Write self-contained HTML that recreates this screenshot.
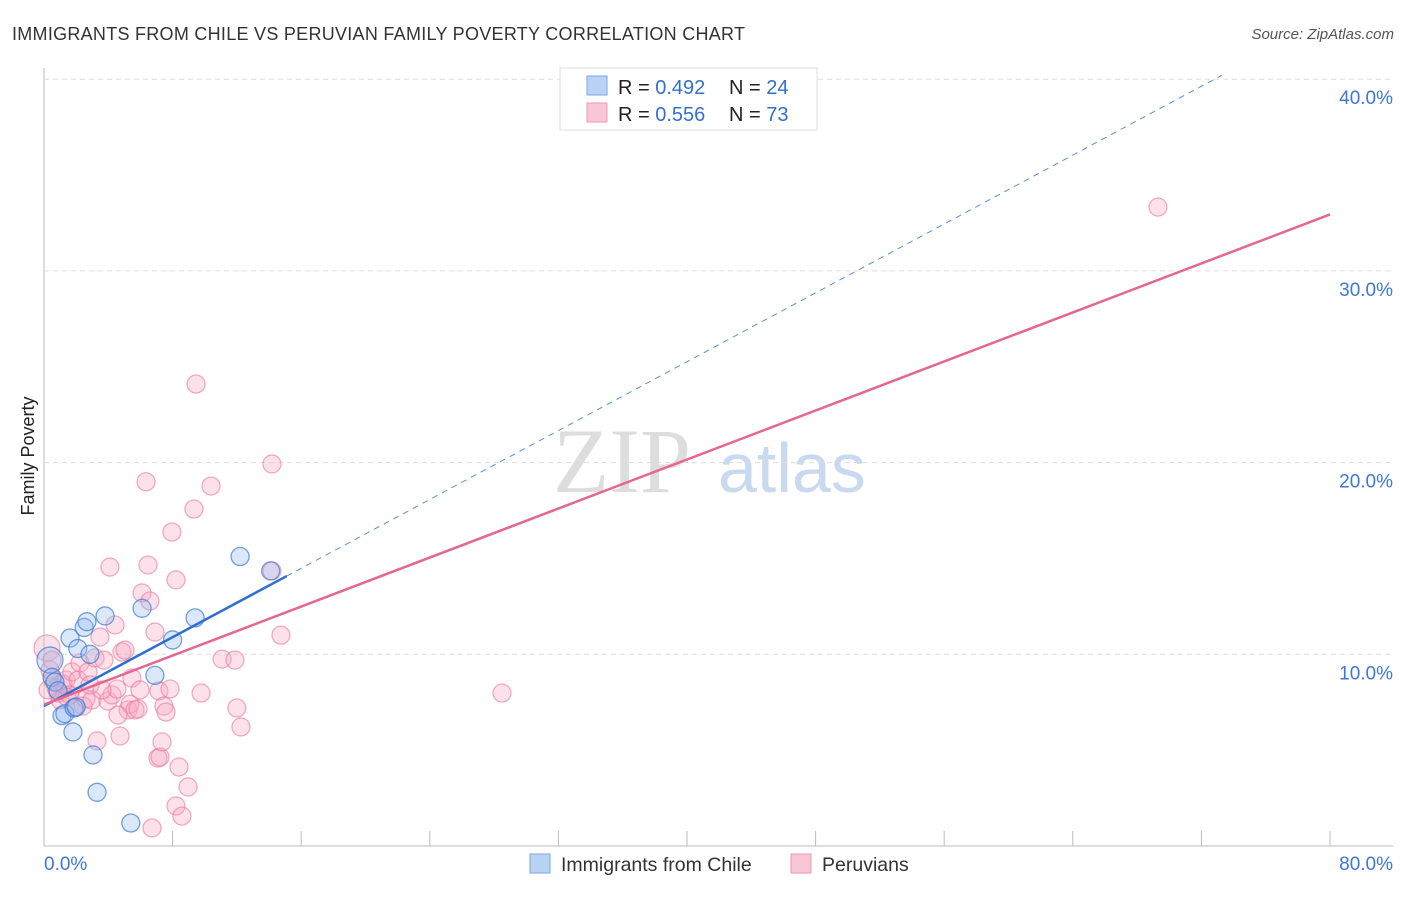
<!DOCTYPE html>
<html><head><meta charset="utf-8"><style>
body{margin:0;background:#fff;font-family:"Liberation Sans",sans-serif}
</style></head><body>
<svg id="c" width="1406" height="892" xmlns="http://www.w3.org/2000/svg" style="font-family:'Liberation Sans',sans-serif">
<text x="12" y="40" font-size="18" fill="#333" textLength="733">IMMIGRANTS FROM CHILE VS PERUVIAN FAMILY POVERTY CORRELATION CHART</text>
<text x="1394" y="39" font-size="15" fill="#555" text-anchor="end" font-style="italic">Source: ZipAtlas.com</text>
<text x="34" y="456" font-size="18" fill="#222" text-anchor="middle" transform="rotate(-90 34 456)">Family Poverty</text>
<g><text x="553" y="492" font-size="92" fill="#ddd" font-family="'Liberation Serif',serif">ZIP</text><text x="718" y="492" font-size="70" fill="#c9d9f0">atlas</text></g>
<g id="grid"></g><g id="pts"></g><g id="lines"></g>
<g>
<rect x="560" y="68" width="257" height="62" fill="#fff" stroke="#ddd"/>
<rect x="587" y="76" width="20" height="19" fill="#b9d3f5" stroke="#7aa6e6"/>
<rect x="587" y="103" width="20" height="19" fill="#f8c6d4" stroke="#ee9ab4"/>
<text x="618" y="94" font-size="20" fill="#222">R = <tspan fill="#3370cc">0.492</tspan></text>
<text x="729" y="94" font-size="20" fill="#222">N = <tspan fill="#3370cc">24</tspan></text>
<text x="618" y="121" font-size="20" fill="#222">R = <tspan fill="#3370cc">0.556</tspan></text>
<text x="729" y="121" font-size="20" fill="#222">N = <tspan fill="#3370cc">73</tspan></text>
</g>
<g>
<rect x="530" y="854" width="20" height="19" fill="#b9d3f5" stroke="#7aa6e6"/>
<text x="561" y="871" font-size="19.5" fill="#333">Immigrants from Chile</text>
<rect x="791" y="854" width="20" height="19" fill="#f8c6d4" stroke="#ee9ab4"/>
<text x="822" y="871" font-size="19.5" fill="#333">Peruvians</text>
</g>
</svg>
<script>
const xTicks=[0,8,16,24,32,40,48,56,64,72,80];
const yTicks=[10,20,30,40];
const yTickLabels=["10.0%","20.0%","30.0%","40.0%"];
const xEndLabels=["0.0%","80.0%"];
const chileX=[0.37,0.5,0.68,1.12,1.3,1.62,1.8,1.87,2.1,2.5,2.67,2.86,3.05,3.3,3.8,5.4,6.1,6.9,8.0,9.4,12.2,14.1,0.87,2.0];
const chileY=[9.7,8.8,8.55,6.8,6.9,10.85,5.95,7.2,10.3,11.4,11.7,10.0,4.75,2.8,12.0,1.2,12.4,8.9,10.75,11.9,15.1,14.35,8.1,7.25];
const peruX=[0.19,0.37,0.56,0.75,0.87,1.0,1.18,1.37,1.62,1.74,1.93,2.12,2.24,2.43,2.61,2.74,2.99,3.17,3.3,3.48,3.73,3.98,4.1,4.23,4.42,4.54,4.73,4.85,5.04,5.23,5.35,5.47,5.66,5.85,6.1,6.35,6.47,6.59,6.72,6.9,7.09,7.15,7.22,7.34,7.46,7.59,7.84,7.96,8.21,8.21,8.4,8.58,8.96,9.33,9.46,9.77,10.39,11.08,11.88,12.0,12.25,14.18,14.18,14.74,28.49,69.3,0.25,0.5,1.43,2.86,3.61,4.6,5.97];
const peruY=[10.33,9.18,8.66,8.24,7.98,7.62,8.45,8.66,7.88,9.08,7.25,8.66,9.55,7.3,7.67,9.08,7.62,9.81,5.48,10.9,9.7,7.56,14.55,7.88,11.53,8.19,5.74,10.12,10.22,7.1,7.4,8.76,7.1,7.15,13.2,19.0,14.66,12.78,0.94,11.16,4.59,8.09,4.64,5.43,7.3,6.99,8.19,16.38,13.88,2.09,4.12,1.56,3.08,17.58,24.1,7.98,18.78,9.75,9.7,7.2,6.21,19.93,14.35,11.0,7.98,33.33,8.14,9.7,7.77,8.4,8.14,6.83,8.14];
const NS="http://www.w3.org/2000/svg";
const X=v=>44+v*16.075, Y=v=>846-v*19.17;
function mk(t,a,p){const e=document.createElementNS(NS,t);for(const k in a)e.setAttribute(k,a[k]);p.appendChild(e);return e;}
const grid=document.getElementById('grid');
mk('line',{x1:44,y1:68,x2:44,y2:846,stroke:'#bbb'},grid);
mk('line',{x1:44,y1:846,x2:1393,y2:846,stroke:'#bbb'},grid);
xTicks.forEach(t=>{const l=mk('line',{x1:X(t),y1:831,x2:X(t),y2:846,stroke:'#bbb'},grid);

});
yTicks.forEach((t,i)=>{const l=mk('line',{x1:44,y1:Y(t),x2:1393,y2:Y(t),stroke:'#ddd','stroke-dasharray':'5,4'},grid);


const tx=mk('text',{x:1393,y:Y(t)+25,'font-size':19,fill:'#3d78d8','text-anchor':'end'},grid);tx.textContent=yTickLabels[i];

});
[[0,'start'],[80,'end']].forEach((d,i)=>{const tx=mk('text',{x:i?1393:44,y:870,'font-size':19,fill:'#3d78d8','text-anchor':d[1]},grid);tx.textContent=xEndLabels[i];

});
const pts=document.getElementById('pts');
function dots(xs,ys,fill,stroke,name){xs.forEach((x,i)=>{const c=mk('circle',{cx:X(x),cy:Y(ys[i]),r:(i==0?13:9),fill:fill,stroke:stroke,'stroke-width':1.3},pts);

});}
dots(peruX,peruY,'rgba(246,170,195,0.35)','rgba(232,120,158,0.6)','peruvian-point');
dots(chileX,chileY,'rgba(150,190,240,0.35)','rgba(60,120,210,0.7)','chile-point');
function reg(xs,ys){const n=xs.length;let mx=0,my=0;xs.forEach((x,i)=>{mx+=x;my+=ys[i];});mx/=n;my/=n;let sxy=0,sxx=0;xs.forEach((x,i)=>{sxy+=(x-mx)*(ys[i]-my);sxx+=(x-mx)**2;});const b=sxy/sxx;return [my-b*mx,b];}
const lines=document.getElementById('lines');
const [ca,cb]=reg(chileX,chileY),[pa,pb]=reg(peruX,peruY);
const xmaxC=Math.max(...chileX)+1;
let l=mk('line',{x1:X(0),y1:Y(ca),x2:X(xmaxC),y2:Y(ca+cb*xmaxC),stroke:'#2c6fd0','stroke-width':2.5},lines);


const xe=Math.min(80,(40.2-ca)/cb);
l=mk('line',{x1:X(xmaxC),y1:Y(ca+cb*xmaxC),x2:X(xe),y2:Y(ca+cb*xe),stroke:'#5a90dd','stroke-width':1,'stroke-dasharray':'6,5'},lines);


l=mk('line',{x1:X(0),y1:Y(pa),x2:X(80),y2:Y(pa+pb*80),stroke:'#e56690','stroke-width':2.5},lines);


</script>
</body></html>
